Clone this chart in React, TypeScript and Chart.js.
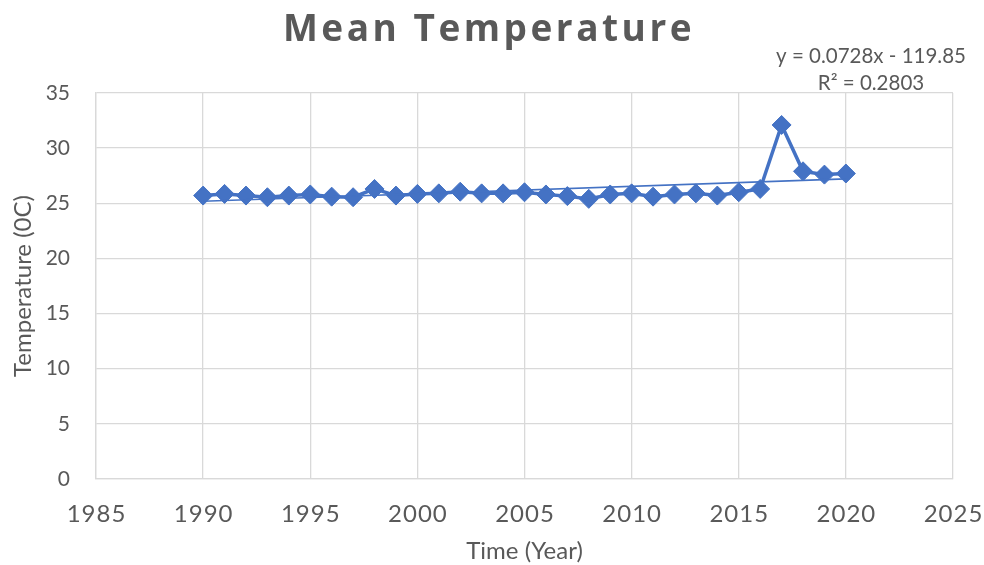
import React, { useEffect, useRef } from 'react';
import { Chart, registerables } from 'chart.js';

Chart.register(...registerables);

const chartTitle = 'Mean Temperature';
const xAxisTitle = 'Time (Year)';
const yAxisTitle = 'Temperature (0C)';
const equationLines = ['y = 0.0728x - 119.85', 'R² = 0.2803'];

const years = [
  1990, 1991, 1992, 1993, 1994, 1995, 1996, 1997, 1998, 1999,
  2000, 2001, 2002, 2003, 2004, 2005, 2006, 2007, 2008, 2009,
  2010, 2011, 2012, 2013, 2014, 2015, 2016, 2017, 2018, 2019, 2020,
];
const meanTemp = [
  25.7, 25.85, 25.7, 25.55, 25.7, 25.8, 25.6, 25.55, 26.3, 25.7,
  25.85, 25.9, 26.05, 25.9, 25.9, 26.0, 25.8, 25.65, 25.4, 25.8,
  25.9, 25.6, 25.8, 25.9, 25.7, 26.0, 26.3, 32.1, 27.9, 27.6, 27.7,
];

const xMin = 1985;
const xMax = 2025;
const xStep = 5;
const yMin = 0;
const yMax = 35;
const yStep = 5;

const BLUE = '#4472C4';
const TEXT = '#595959';
const GRID = '#D9D9D9';
const FONT = 'Lato';

function linearFit(xs: number[], ys: number[]) {
  const n = xs.length;
  const mx = xs.reduce((a, b) => a + b, 0) / n;
  const my = ys.reduce((a, b) => a + b, 0) / n;
  let sxy = 0;
  let sxx = 0;
  for (let i = 0; i < n; i++) {
    sxy += (xs[i] - mx) * (ys[i] - my);
    sxx += (xs[i] - mx) * (xs[i] - mx);
  }
  const slope = sxy / sxx;
  return { slope, intercept: my - slope * mx };
}

const overlayPlugin = {
  id: 'overlayText',
  afterDraw(chart: any) {
    const ctx = chart.ctx as CanvasRenderingContext2D;
    const area = chart.chartArea;
    const xScale = chart.scales.x;
    ctx.save();
    ctx.fillStyle = TEXT;
    ctx.textAlign = 'center';
    ctx.textBaseline = 'middle';

    // Title
    (ctx as any).letterSpacing = '3.5px';
    ctx.font = `bold 37px "Open Sans"`;
    ctx.fillText(chartTitle, 489, 30);

    // X tick labels (letter-spaced, drawn at the scale's own tick positions)
    (ctx as any).letterSpacing = '1px';
    ctx.font = `24px ${FONT}`;
    for (const t of xScale.ticks) {
      ctx.fillText(String(t.value), xScale.getPixelForValue(t.value) + 0.5, 514);
    }
    (ctx as any).letterSpacing = '0px';

    // Equation label
    ctx.font = `20.5px ${FONT}`;
    ctx.fillText(equationLines[0], 871, 56);
    ctx.fillText(equationLines[1], 871, 83);

    // X axis title
    ctx.font = `24px ${FONT}`;
    ctx.fillText(xAxisTitle, (area.left + area.right) / 2, 551);

    // Y axis title
    ctx.translate(23, (area.top + area.bottom) / 2);
    ctx.rotate(-Math.PI / 2);
    ctx.fillText(yAxisTitle, 0, 0);
    ctx.restore();
  },
};

export default function App() {
  const canvasRef = useRef<HTMLCanvasElement | null>(null);

  useEffect(() => {
    if (!canvasRef.current) return;
    const fit = linearFit(years, meanTemp);
    const x0 = years[0];
    const x1 = years[years.length - 1];
    const trend = [
      { x: x0, y: fit.slope * x0 + fit.intercept },
      { x: x1, y: fit.slope * x1 + fit.intercept },
    ];
    const chart = new Chart(canvasRef.current, {
      type: 'scatter',
      data: {
        datasets: [
          {
            label: 'Linear trend',
            data: trend,
            showLine: true,
            borderColor: BLUE,
            borderWidth: 1.6,
            pointRadius: 0,
            pointHoverRadius: 0,
          },
          {
            label: 'Mean Temperature',
            data: years.map((yr, i) => ({ x: yr, y: meanTemp[i] })),
            showLine: true,
            borderColor: BLUE,
            backgroundColor: BLUE,
            borderWidth: 3.5,
            pointStyle: 'rectRot',
            pointRadius: 9.5,
            pointBorderWidth: 1,
            pointBackgroundColor: BLUE,
            pointBorderColor: BLUE,
          },
        ],
      },
      options: {
        responsive: true,
        maintainAspectRatio: false,
        animation: false,
        layout: { padding: { top: 93, right: 31, left: 0, bottom: 0 } },
        plugins: {
          legend: { display: false },
          title: { display: false },
          tooltip: { enabled: false },
        },
        scales: {
          x: {
            type: 'linear',
            min: xMin,
            max: xMax,
            grid: { color: GRID, lineWidth: 1.3, drawTicks: false },
            border: { color: GRID, width: 1.3 },
            ticks: {
              stepSize: xStep,
              display: false,
            },
            afterFit: (scale: any) => {
              scale.height = 86;
              scale.paddingLeft = 0;
              scale.paddingRight = 0;
            },
          },
          y: {
            type: 'linear',
            min: yMin,
            max: yMax,
            grid: { color: GRID, lineWidth: 1.3, drawTicks: false },
            border: { color: GRID, width: 1.3 },
            ticks: {
              stepSize: yStep,
              padding: 26,
              color: TEXT,
              font: { family: FONT, size: 21 },
            },
            afterFit: (scale: any) => {
              scale.width = 96;
            },
          },
        },
      },
      plugins: [overlayPlugin],
    });
    return () => chart.destroy();
  }, []);

  return (
    <div style={{ position: 'fixed', left: 0, top: 0, width: 984, height: 565, background: '#fff' }}>
      <canvas ref={canvasRef} />
    </div>
  );
}
